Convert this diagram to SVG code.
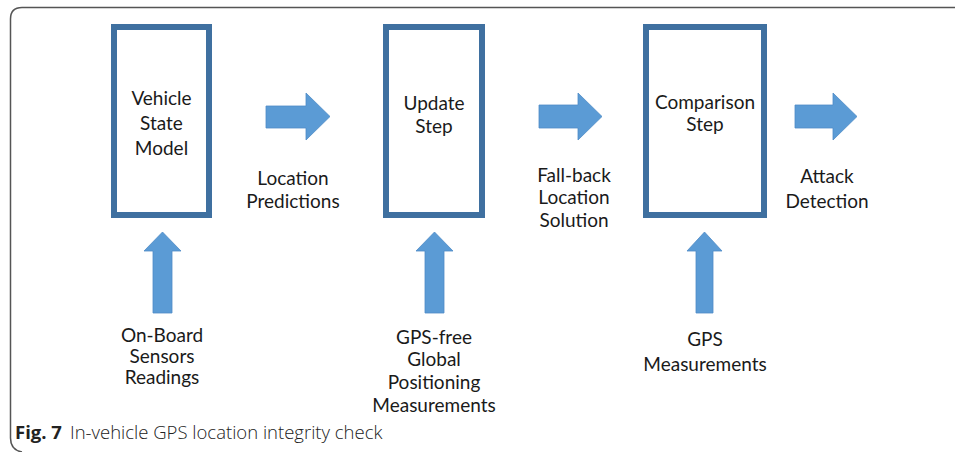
<svg xmlns="http://www.w3.org/2000/svg" width="955" height="452" viewBox="0 0 955 452">
<style>
.box{fill:#fff;stroke:#3f70a0;stroke-width:6}
.arr{fill:#5b9bd5;stroke:#4f8cc6;stroke-width:0.8}
.t{font-family:Lato,"Open Sans",sans-serif;font-size:19px;fill:#1a1a1a;text-anchor:middle}
.cap{font-family:"Open Sans","Noto Sans",sans-serif;font-size:18.5px;fill:#222}
</style>
<rect width="955" height="452" fill="#fff"/>
<path d="M955,7.5 H22 Q10.5,7.5 10.5,19 V438 Q10.5,450 22,452" fill="none" stroke="#555" stroke-width="1.5"/>
<g id="vehicle-state-model">
<rect class="box" x="114" y="27" width="95" height="188"/>
<text class="t" x="161.5" y="105">Vehicle</text>
<text class="t" x="161.5" y="130">State</text>
<text class="t" x="161.5" y="155">Model</text>
</g>
<g id="update-step">
<rect class="box" x="386" y="27" width="96" height="188"/>
<text class="t" x="434" y="110">Update</text>
<text class="t" x="434" y="133">Step</text>
</g>
<g id="comparison-step">
<rect class="box" x="646" y="27" width="118" height="188"/>
<text class="t" x="705" y="109">Comparison</text>
<text class="t" x="705" y="131">Step</text>
</g>
<g id="connectors">
<polygon class="arr" points="266,106 306,106 306,93 330,116.5 306,140 306,128 266,128"/>
<polygon class="arr" points="539,105 578,105 578,93 602,116.5 578,140 578,128 539,128"/>
<polygon class="arr" points="795,105 833,105 833,93 857,116.5 833,140 833,128 795,128"/>
<polygon class="arr" points="153,313 153,251 144,251 162.5,232 181,251 172,251 172,313"/>
<polygon class="arr" points="425,313 425,251 416,251 434.5,232 453,251 444,251 444,313"/>
<polygon class="arr" points="696,313 696,251 687,251 704.5,232 722,251 713,251 713,313"/>
</g>
<g id="location-predictions">
<text class="t" x="293" y="185">Location</text>
<text class="t" x="293" y="208">Predictions</text>
</g>
<g id="fall-back-location-solution">
<text class="t" x="574" y="182">Fall-back</text>
<text class="t" x="574" y="204">Location</text>
<text class="t" x="574" y="227">Solution</text>
</g>
<g id="attack-detection">
<text class="t" x="827" y="183">Attack</text>
<text class="t" x="827" y="208">Detection</text>
</g>
<g id="on-board-sensors-readings">
<text class="t" x="162" y="342">On-Board</text>
<text class="t" x="162" y="363">Sensors</text>
<text class="t" x="162" y="384">Readings</text>
</g>
<g id="gps-free-global-positioning-measurements">
<text class="t" x="434" y="344">GPS-free</text>
<text class="t" x="434" y="366">Global</text>
<text class="t" x="434" y="389">Positioning</text>
<text class="t" x="434" y="412">Measurements</text>
</g>
<g id="gps-measurements">
<text class="t" x="705" y="346">GPS</text>
<text class="t" x="705" y="371">Measurements</text>
</g>
<g id="caption">
<text class="cap" x="15" y="439" font-weight="bold" font-size="19.5px">Fig. 7</text>
<text class="cap" x="70" y="439" font-weight="300">In-vehicle GPS location integrity check</text>
</g>
</svg>
